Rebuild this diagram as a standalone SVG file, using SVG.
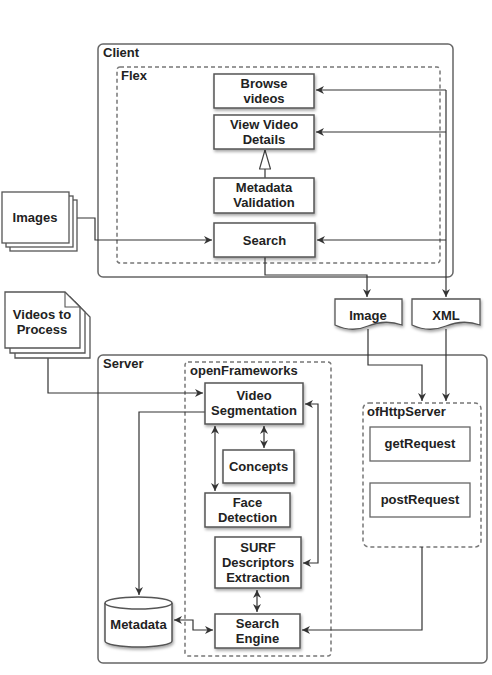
<svg xmlns="http://www.w3.org/2000/svg" width="492" height="675" viewBox="0 0 492 675">
<defs>
<filter id="sh" x="-10%" y="-10%" width="130%" height="140%">
<feDropShadow dx="1" dy="2" stdDeviation="1.5" flood-color="#000" flood-opacity="0.35"/>
</filter>
<marker id="ah" viewBox="0 0 10 10" refX="10" refY="5" markerWidth="8" markerHeight="8" orient="auto-start-reverse" markerUnits="userSpaceOnUse">
<path d="M0,0 L10,5 L0,10 L3,5 Z" fill="#333"/>
</marker>
<marker id="tri" viewBox="0 0 12 20" refX="6" refY="0" markerWidth="12" markerHeight="20" orient="0" markerUnits="userSpaceOnUse">
<path d="M6,0 L11.5,19 L0.5,19 Z" fill="#fff" stroke="#444" stroke-width="1.2"/>
</marker>
</defs>
<style>
text{font-family:"Liberation Sans",Arial,sans-serif;font-weight:bold;font-size:13px;fill:#222}
.c{text-anchor:middle}
.box{fill:#fff;stroke:#555;stroke-width:1.5;filter:url(#sh)}
.pbox{fill:#fff;stroke:#666;stroke-width:1.3}
.cont{fill:none;stroke:#666;stroke-width:1.5}
.dash{fill:none;stroke:#777;stroke-width:1.5;stroke-dasharray:4,3}
.ln{fill:none;stroke:#333;stroke-width:1.2}
.doc{fill:#fff;stroke:#555;stroke-width:1.3}
</style>
<rect width="492" height="675" fill="#fff"/>

<g id="client">
<rect x="98" y="44" width="355" height="233" rx="5" class="cont"/>
<text x="103" y="57">Client</text>
</g>
<g id="flex">
<rect x="117" y="67" width="323" height="196" rx="3" class="dash"/>
<text x="121" y="80">Flex</text>
</g>
<g id="server">
<rect x="98" y="355" width="389" height="308" rx="5" class="cont"/>
<text x="103" y="368">Server</text>
</g>
<g id="openframeworks">
<rect x="185" y="362" width="146" height="294" rx="3" class="dash"/>
<text x="190" y="375">openFrameworks</text>
</g>
<g id="ofhttpserver">
<rect x="363" y="403" width="118" height="144" rx="6" class="dash"/>
<text x="367" y="416">ofHttpServer</text>
</g>

<g id="connectors">
<!-- XML to client -->
<path d="M446,90 V297" class="ln" marker-end="url(#ah)"/>
<path d="M446,90 H316" class="ln" marker-end="url(#ah)"/>
<path d="M446,132 H316" class="ln" marker-end="url(#ah)"/>
<path d="M446,240 H317" class="ln" marker-end="url(#ah)"/>
<!-- Search to Image -->
<path d="M265,257 V275 H367 V297" class="ln" marker-end="url(#ah)"/>
<!-- Metadata Validation to View Video Details -->
<path d="M265,178 V150" class="ln" marker-end="url(#tri)"/>
<!-- Images to Search -->
<path d="M77,218 H95 V240 H212" class="ln" marker-end="url(#ah)"/>
<!-- Image / XML to ofHttpServer -->
<path d="M368,329 V365 H422 V401" class="ln" marker-end="url(#ah)"/>
<path d="M446,329 V401" class="ln" marker-end="url(#ah)"/>
<!-- Videos to Process to Video Segmentation -->
<path d="M48,358 V393 H203" class="ln" marker-end="url(#ah)"/>
<!-- Video Segmentation to Metadata -->
<path d="M205,412 H139 V595" class="ln" marker-end="url(#ah)"/>
<!-- Video Seg <-> Face Detection -->
<path d="M215,426 V491" class="ln" marker-start="url(#ah)" marker-end="url(#ah)"/>
<!-- Video Seg <-> Concepts -->
<path d="M264,426 V448" class="ln" marker-start="url(#ah)" marker-end="url(#ah)"/>
<!-- Video Seg <-> SURF loop -->
<path d="M305,404 H318 V563 H303" class="ln" marker-start="url(#ah)" marker-end="url(#ah)"/>
<!-- SURF <-> Search Engine -->
<path d="M257,590 V612" class="ln" marker-start="url(#ah)" marker-end="url(#ah)"/>
<!-- Metadata <-> Search Engine -->
<path d="M174,620 H193 V630 H213" class="ln" marker-start="url(#ah)" marker-end="url(#ah)"/>
<!-- ofHttpServer to Search Engine -->
<path d="M422,547 V630 H302" class="ln" marker-end="url(#ah)"/>
</g>

<g id="browse-videos">
<rect x="214" y="74" width="100" height="34" class="box"/>
<text x="264" y="88" class="c">Browse</text>
<text x="264" y="103" class="c">videos</text>
</g>
<g id="view-video-details">
<rect x="214" y="115" width="100" height="34" class="box"/>
<text x="264" y="129" class="c">View Video</text>
<text x="264" y="144" class="c">Details</text>
</g>
<g id="metadata-validation">
<rect x="214" y="178" width="100" height="35" class="box"/>
<text x="264" y="192" class="c">Metadata</text>
<text x="264" y="207" class="c">Validation</text>
</g>
<g id="search">
<rect x="214" y="223" width="101" height="34" class="box"/>
<text x="264.5" y="245" class="c">Search</text>
</g>

<g id="images">
<rect x="10" y="200" width="67" height="51" class="doc"/>
<rect x="6" y="196" width="67" height="51" class="doc"/>
<rect x="2" y="192" width="67" height="51" class="doc"/>
<text x="35" y="222" class="c">Images</text>
</g>

<g id="videos-to-process">
<path d="M15,302 H75 L90,317 V358 H15 Z" class="doc"/>
<path d="M10,297 H70 L85,312 V353 H10 Z" class="doc"/>
<path d="M5,292 H65 L80,307 V348 H5 Z" class="doc"/>
<path d="M65,292 V307 H80" fill="none" stroke="#555" stroke-width="1.1"/>
<text x="42" y="319" class="c">Videos to</text>
<text x="42" y="334" class="c">Process</text>
</g>

<g id="image">
<path d="M335,299 H402 V325 Q385,319 368,326 Q352,333 335,325 Z" class="doc" filter="url(#sh)"/>
<text x="368" y="320" class="c">Image</text>
</g>
<g id="xml">
<path d="M412,299 H480 V325 Q463,319 446,326 Q429,333 412,325 Z" class="doc" filter="url(#sh)"/>
<text x="446" y="320" class="c">XML</text>
</g>

<g id="video-segmentation">
<rect x="205" y="383" width="98" height="41" class="box"/>
<text x="254" y="400" class="c">Video</text>
<text x="254" y="415" class="c">Segmentation</text>
</g>
<g id="concepts">
<rect x="223" y="450" width="71" height="33" class="box"/>
<text x="258.5" y="471" class="c">Concepts</text>
</g>
<g id="face-detection">
<rect x="205" y="493" width="85" height="34" class="box"/>
<text x="247.5" y="507" class="c">Face</text>
<text x="247.5" y="522" class="c">Detection</text>
</g>
<g id="surf">
<rect x="215" y="537" width="86" height="51" class="box"/>
<text x="258" y="552" class="c">SURF</text>
<text x="258" y="567" class="c">Descriptors</text>
<text x="258" y="582" class="c">Extraction</text>
</g>
<g id="search-engine">
<rect x="215" y="614" width="85" height="34" class="box"/>
<text x="257.5" y="628" class="c">Search</text>
<text x="257.5" y="643" class="c">Engine</text>
</g>
<g id="metadata">
<path d="M105,603 V641 A33.5,6 0 0 0 172,641 V603 A33.5,6 0 0 0 105,603 Z" fill="#fff" stroke="#555" stroke-width="1.5" filter="url(#sh)"/>
<path d="M105,603 A33.5,6 0 0 0 172,603" fill="none" stroke="#555" stroke-width="1.5"/>
<text x="138.5" y="629" class="c">Metadata</text>
</g>
<g id="getrequest">
<rect x="370" y="427" width="100" height="34" class="pbox"/>
<text x="420" y="448" class="c">getRequest</text>
</g>
<g id="postrequest">
<rect x="370" y="483" width="100" height="34" class="pbox"/>
<text x="420" y="504" class="c">postRequest</text>
</g>
</svg>
